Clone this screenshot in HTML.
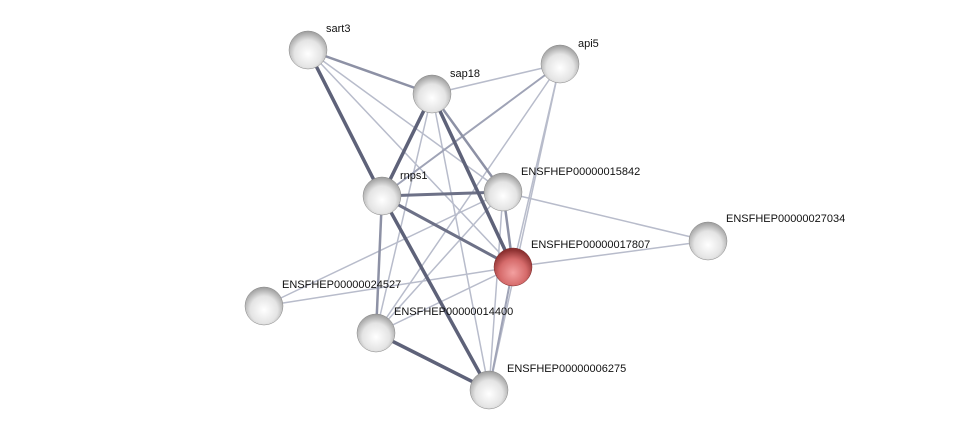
<!DOCTYPE html>
<html><head><meta charset="utf-8"><style>
html,body{margin:0;padding:0;background:#fff;width:976px;height:435px;overflow:hidden}
text{font-family:"Liberation Sans",sans-serif;font-size:11px;fill:#111}
</style></head><body>
<svg width="976" height="435" xmlns="http://www.w3.org/2000/svg">
<defs>
<radialGradient id="g" cx="50%" cy="60%" r="60%">
<stop offset="0" stop-color="#ffffff"/><stop offset="0.6" stop-color="#e4e4e4"/><stop offset="1" stop-color="#9a9a9a"/></radialGradient>
<radialGradient id="r" cx="50%" cy="65%" r="60%">
<stop offset="0" stop-color="#f3a0a0"/><stop offset="0.6" stop-color="#d56a6a"/><stop offset="1" stop-color="#8c3030"/></radialGradient>
<linearGradient id="hl" x1="0" y1="0" x2="0" y2="1"><stop offset="0" stop-color="#fff" stop-opacity="0.9"/><stop offset="1" stop-color="#fff" stop-opacity="0"/></linearGradient>
</defs>
<g stroke-linecap="round">
<g stroke="#b8bccb" stroke-width="1.5">
<line x1="308" y1="50" x2="503" y2="192"/>
<line x1="308" y1="50" x2="513" y2="267"/>
<line x1="432" y1="94" x2="560" y2="64"/>
<line x1="432" y1="94" x2="376" y2="333"/>
<line x1="432" y1="94" x2="489" y2="390"/>
<line x1="560" y1="64" x2="376" y2="333"/>
<line x1="560" y1="64" x2="513" y2="267"/>
<line x1="560" y1="64" x2="489" y2="390"/>
<line x1="503" y1="192" x2="264" y2="306"/>
<line x1="503" y1="192" x2="376" y2="333"/>
<line x1="503" y1="192" x2="489" y2="390"/>
<line x1="503" y1="192" x2="708" y2="241"/>
<line x1="513" y1="267" x2="708" y2="241"/>
<line x1="513" y1="267" x2="264" y2="306"/>
<line x1="513" y1="267" x2="376" y2="333"/>
<line x1="382" y1="196" x2="489" y2="390"/>
</g>
<g stroke="#9fa3b6" stroke-width="2">
<line x1="560" y1="64" x2="382" y2="196"/>
<line x1="513" y1="267" x2="489" y2="390"/>
</g>
<g stroke="#8d91a5" stroke-width="2.5">
<line x1="308" y1="50" x2="432" y2="94"/>
<line x1="432" y1="94" x2="503" y2="192"/>
<line x1="382" y1="196" x2="376" y2="333"/>
<line x1="503" y1="192" x2="513" y2="267"/>
</g>
<g stroke="#6d7187" stroke-width="3">
<line x1="382" y1="196" x2="503" y2="192"/>
<line x1="382" y1="196" x2="513" y2="267"/>
</g>
<g stroke="#5e6279" stroke-width="3.5">
<line x1="308" y1="50" x2="382" y2="196"/>
<line x1="432" y1="94" x2="382" y2="196"/>
<line x1="432" y1="94" x2="513" y2="267"/>
<line x1="382" y1="196" x2="489" y2="390"/>
<line x1="376" y1="333" x2="489" y2="390"/>
</g>
</g>
<g>
<circle cx="308" cy="50" r="19" fill="url(#g)" stroke="#888" stroke-width="0.5"/>
<circle cx="560" cy="64" r="19" fill="url(#g)" stroke="#888" stroke-width="0.5"/>
<circle cx="432" cy="94" r="19" fill="url(#g)" stroke="#888" stroke-width="0.5"/>
<circle cx="382" cy="196" r="19" fill="url(#g)" stroke="#888" stroke-width="0.5"/>
<circle cx="503" cy="192" r="19" fill="url(#g)" stroke="#888" stroke-width="0.5"/>
<circle cx="708" cy="241" r="19" fill="url(#g)" stroke="#888" stroke-width="0.5"/>
<circle cx="513" cy="267" r="19" fill="url(#r)" stroke="#7a2a2a" stroke-width="0.5"/>
<circle cx="264" cy="306" r="19" fill="url(#g)" stroke="#888" stroke-width="0.5"/>
<circle cx="376" cy="333" r="19" fill="url(#g)" stroke="#888" stroke-width="0.5"/>
<circle cx="489" cy="390" r="19" fill="url(#g)" stroke="#888" stroke-width="0.5"/>
</g>
<g>
<text x="326" y="32">sart3</text>
<text x="578" y="47">api5</text>
<text x="450" y="77">sap18</text>
<text x="400" y="179">rnps1</text>
<text x="521" y="175">ENSFHEP00000015842</text>
<text x="726" y="222">ENSFHEP00000027034</text>
<text x="531" y="248">ENSFHEP00000017807</text>
<text x="282" y="288">ENSFHEP00000024527</text>
<text x="394" y="315">ENSFHEP00000014400</text>
<text x="507" y="372">ENSFHEP00000006275</text>
</g>
</svg>
</body></html>
